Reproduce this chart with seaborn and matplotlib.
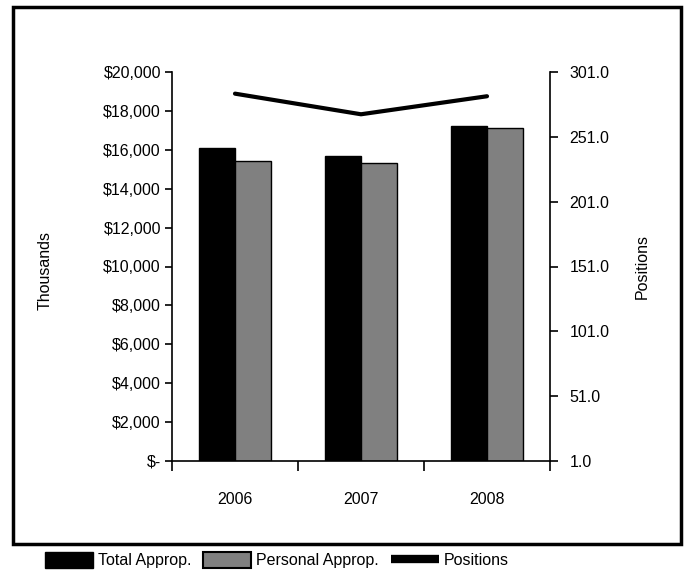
import matplotlib
matplotlib.use("Agg")
import matplotlib.pyplot as plt
import seaborn as sns
import pandas as pd
from matplotlib.patches import Rectangle, Patch
from matplotlib.lines import Line2D
from matplotlib.ticker import FuncFormatter

years = ["2006", "2007", "2008"]
total_approp = [16080, 15680, 17220]
personal_approp = [15440, 15340, 17100]
positions = [284.3, 268.4, 282.3]

sns.set_style("white")
plt.rcParams['font.family'] = ['Liberation Sans', 'DejaVu Sans']
plt.rcParams.update({"text.color": "black", "axes.labelcolor": "black",
                     "xtick.color": "black", "ytick.color": "black"})
FS = 11.5

df = pd.DataFrame({
    "year": years * 2,
    "value": total_approp + personal_approp,
    "series": ["Total Approp."] * 3 + ["Personal Approp."] * 3,
})
dpos = pd.DataFrame({"year": years, "positions": positions})

fig = plt.figure(figsize=(6.87, 5.76), dpi=100)
ax = fig.add_axes([172/687, 1 - 461/576, (550 - 172)/687, (461 - 72)/576])

sns.barplot(data=df, x="year", y="value", hue="series",
            palette=["#000000", "#808080"], width=0.575,
            edgecolor="black", linewidth=1, ax=ax, legend=False, saturation=1)
ax.set_ylim(0, 20000)
ax.set_yticks(range(0, 20001, 2000))
ax.yaxis.set_major_formatter(FuncFormatter(lambda v, p: "$-" if v == 0 else f"${v:,.0f}"))
ax.set_xlim(-0.5, 2.5)
ax.set_xlabel("")
ax.set_ylabel("Thousands", fontsize=FS)
ax.yaxis.set_label_coords((53 - 172)/378, 0.49)
ax.set_xticks([0, 1, 2])
ax.set_xticklabels(years)
ax.set_xticks([-0.5, 0.5, 1.5, 2.5], minor=True)
ax.tick_params(axis="x", which="major", length=0, pad=22, labelsize=FS)
ax.tick_params(axis="x", which="minor", length=7, width=1.2, direction="out", color="black", bottom=True)
ax.tick_params(axis="y", length=5, width=1.2, direction="out", color="black", left=True, pad=3, labelsize=FS)
for s in ["left", "bottom"]:
    ax.spines[s].set_color("black")
    ax.spines[s].set_linewidth(1.2)
ax.spines["top"].set_visible(False)
ax.spines["right"].set_visible(False)

ax2 = ax.twinx()
sns.pointplot(data=dpos, x="year", y="positions", color="black", marker="",
              linewidth=3, ax=ax2, errorbar=None)
ax2.set_ylim(1, 301)
ax2.set_yticks([1, 51, 101, 151, 201, 251, 301])
ax2.yaxis.set_major_formatter(FuncFormatter(lambda v, p: f"{v:.1f}"))
ax2.set_xlim(-0.5, 2.5)
ax2.set_ylabel("Positions", fontsize=FS)
ax2.yaxis.set_label_coords((635 - 172)/378, 0.5)
ax2.set_xlabel("")
ax2.tick_params(axis="y", length=6, width=1.2, direction="out", color="black", right=True, pad=8, labelsize=FS)
ax2.spines["right"].set_visible(True)
ax2.spines["right"].set_color("black")
ax2.spines["right"].set_linewidth(1.2)
for s in ["top", "left", "bottom"]:
    ax2.spines[s].set_visible(False)

# outer border
fig.patches.append(Rectangle((13/687, 1 - 544/576), (681 - 13)/687, (544 - 7)/576,
                             transform=fig.transFigure, fill=False,
                             edgecolor="black", linewidth=2.5, zorder=10))

handles = [Patch(facecolor="black", edgecolor="black"),
           Patch(facecolor="#808080", edgecolor="black", linewidth=1.5),
           Line2D([0], [0], color="black", linewidth=6, solid_capstyle="butt")]
fig.legend(handles, ["Total Approp.", "Personal Approp.", "Positions"],
           loc="center left", bbox_to_anchor=(34/687, 1 - 560/576), ncol=3, frameon=False,
           fontsize=FS, handlelength=3.0, handleheight=1.2, columnspacing=0.75,
           handletextpad=0.3, borderpad=0.2)

fig.savefig("out.png", dpi=100)
